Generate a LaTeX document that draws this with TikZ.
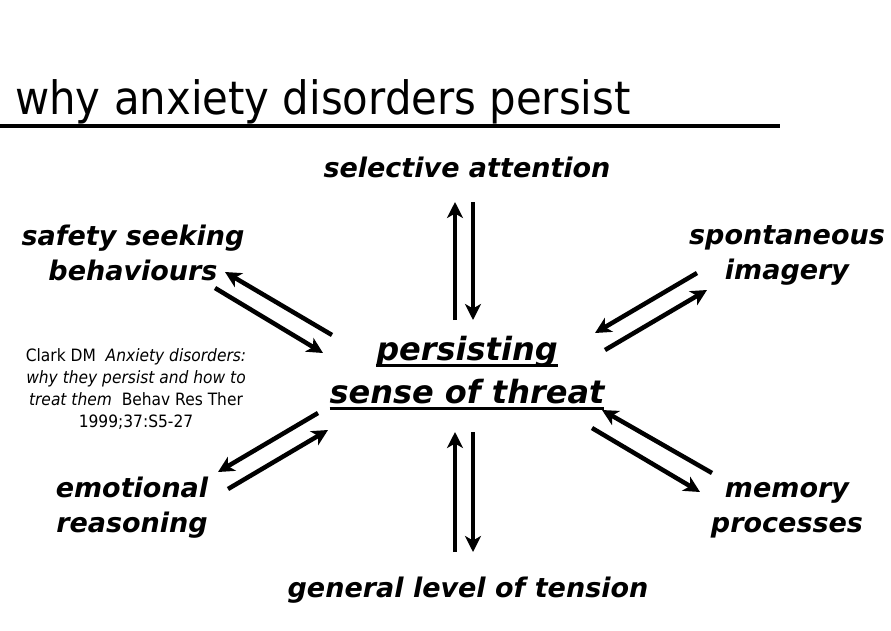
\documentclass[tikz,border=0pt]{standalone}
\usepackage{fontspec}
\setmainfont{DejaVu Sans}
\newfontfamily\narrowfont[FakeStretch=0.91]{DejaVu Sans}
\usetikzlibrary{arrows.meta}
\newcommand{\ulbar}[1]{\setbox0\hbox{#1}\rlap{\rule[-7pt]{\wd0}{3.5pt}}\box0}
\tikzset{
  arr/.style={-{Stealth[length=16pt,width=16pt,inset=4.5pt]}, line width=4.5pt, draw=black},
  figbase/.style={x=1pt, y=-1pt, color=black},
  lab/.style={
    font=\fontsize{27}{35}\selectfont\bfseries\itshape,
    align=center, inner sep=0pt, anchor=base,
  },
  corelab/.style={lab, font=\fontsize{32}{43}\selectfont\bfseries\itshape},
  head/.style={font=\narrowfont\fontsize{46}{55}\selectfont, inner sep=0pt, anchor=base west},
  cite/.style={font=\narrowfont\fontsize{17}{21.7}\selectfont, align=center, inner sep=0pt, anchor=base},
}

\begin{document}
\begin{tikzpicture}[figbase]
  \useasboundingbox (0,0) rectangle (891,630);

  \node[head] (title) at (15,114) {why anxiety disorders persist};
  \draw[line width=4pt] (0,126) -- (780,126);

  % multi-line nodes: base sits on the last line
  \node[corelab] (threat) at (467,403) {\ulbar{persisting}\\\ulbar{sense of threat}};

  \node[lab] (sel) at (467,177) {selective attention};
  \node[lab] (saf) at (133,280) {safety seeking\\behaviours};
  \node[lab] (spo) at (787,279) {spontaneous\\imagery};
  \node[lab] (emo) at (132,532) {emotional\\reasoning};
  \node[lab] (mem) at (787,532) {memory\\processes};
  \node[lab] (ten) at (468,597) {general level of tension};

  \node[cite] (ref) at (136,427)
    {Clark DM\ \ \textit{Anxiety disorders:}\\\textit{why they persist and how to}\\
     \textit{treat them}\ \ Behav Res Ther\\1999;37:S5-27};

  % arrow ends: o = out of the threat, i = into the threat
  \coordinate (sel-o1) at (473,202); \coordinate (sel-o2) at (473,320);
  \coordinate (sel-i1) at (455,320); \coordinate (sel-i2) at (455,202);
  \coordinate (saf-o1) at (332,335); \coordinate (saf-o2) at (225,272);
  \coordinate (saf-i1) at (215,288); \coordinate (saf-i2) at (323,353);
  \coordinate (spo-o1) at (605,350); \coordinate (spo-o2) at (707,290);
  \coordinate (spo-i1) at (697,273); \coordinate (spo-i2) at (595,333);
  \coordinate (emo-o1) at (318,413); \coordinate (emo-o2) at (218,472);
  \coordinate (emo-i1) at (228,489); \coordinate (emo-i2) at (328,430);
  \coordinate (mem-o1) at (592,428); \coordinate (mem-o2) at (700,492);
  \coordinate (mem-i1) at (712,473); \coordinate (mem-i2) at (602,410);
  \coordinate (ten-o1) at (473,432); \coordinate (ten-o2) at (473,552);
  \coordinate (ten-i1) at (455,552); \coordinate (ten-i2) at (455,432);

  \foreach \k in {sel,saf,spo,emo,mem,ten} {
    \draw[arr] (\k-o1) -- (\k-o2);
    \draw[arr] (\k-i1) -- (\k-i2);
  }
\end{tikzpicture}
\end{document}
